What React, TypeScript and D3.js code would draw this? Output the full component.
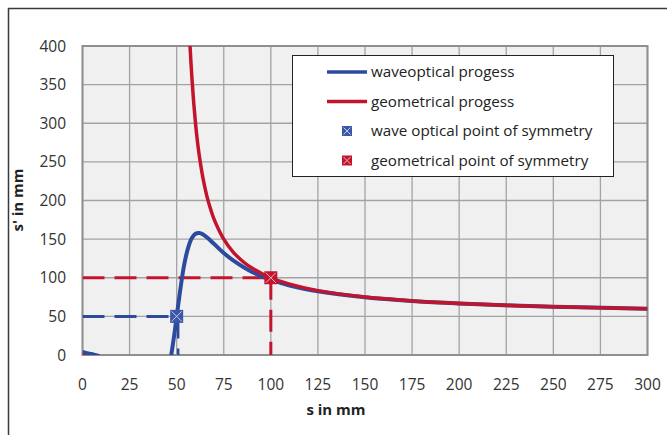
import React from 'react';
import { scaleLinear, line, curveCatmullRom } from 'd3';

// s in mm (object distance)
const xTicks = [0, 25, 50, 75, 100, 125, 150, 175, 200, 225, 250, 275, 300];
const yTicks = [0, 50, 100, 150, 200, 250, 300, 350, 400];

// waveoptical progess (two visible pieces)
const waveS1 = [0, 3, 6, 9];
const waveV1 = [4, 2, 0.5, -1.5];
const waveS2 = [46, 47, 48, 49, 50, 51, 52, 54, 56, 58, 60, 62, 64, 66, 70, 75, 80, 90, 100, 110, 125, 150, 175, 200, 250, 300];
const waveV2 = [-17, -2, 14, 31, 50, 68, 86, 117, 138, 151, 157, 158, 156, 152.5, 143.5, 132, 122.5, 107.5, 97.5, 90, 82.5, 74.7, 69.8, 66.6, 62.5, 60];

// geometrical progess
const geoS1 = [0, 3, 6];
const geoV1 = [0, -3.2, -6.8];
const geoS2 = [56.5, 57.1, 58, 59, 60, 61, 62, 64, 66, 68, 70, 75, 80, 85, 90, 100, 110, 125, 150, 175, 200, 225, 250, 275, 300];
const geoV2 = [435, 400, 362.5, 328, 300, 277, 258.3, 228.6, 206, 189, 175, 150, 133.3, 121.4, 112.5, 100, 91.7, 83.3, 75, 70, 66.7, 64.3, 62.5, 61.1, 60];

// points of symmetry
const waveSym = [50, 50];
const geoSym = [100, 100];

const legendItems = [
  { label: 'waveoptical progess', kind: 'line', color: '#2c4a9e' },
  { label: 'geometrical progess', kind: 'line', color: '#c3142d' },
  { label: 'wave optical point of symmetry', kind: 'mark', color: '#3b57aa' },
  { label: 'geometrical point of symmetry', kind: 'mark', color: '#c3142d' },
];

const BLUE = '#2c4a9e';
const RED = '#c3142d';
const FONT = "'Open Sans', sans-serif";

const left = 82.5, right = 647.5, top = 46, bottom = 355;

export default function App() {
  const x = scaleLinear().domain([0, 300]).range([left, right]);
  const y = scaleLinear().domain([0, 400]).range([bottom, top]);

  const mk = line<[number, number]>()
    .x((d) => x(d[0]))
    .y((d) => y(d[1]))
    .curve(curveCatmullRom);

  const zip = (a: number[], b: number[]) => a.map((v, i) => [v, b[i]] as [number, number]);

  const marker = (cx: number, cy: number, color: string, size: number) => {
    const h = size / 2;
    return (
      <g>
        <rect x={cx - h} y={cy - h} width={size} height={size} fill={color} />
        <path
          d={`M${cx - h + 1.5},${cy - h + 1.5}L${cx + h - 1.5},${cy + h - 1.5}M${cx + h - 1.5},${cy - h + 1.5}L${cx - h + 1.5},${cy + h - 1.5}`}
          stroke="#e8e8f0"
          strokeWidth={1}
          opacity={0.8}
        />
      </g>
    );
  };

  return (
    <svg width={667} height={435} style={{ position: 'absolute', left: 0, top: 0 }}>
      <rect x={0} y={0} width={667} height={435} fill="#fff" />
      <rect x={8.5} y={8.5} width={700} height={450} fill="none" stroke="#3a3a3a" strokeWidth={1.5} />
      <defs>
        <clipPath id="plot">
          <rect x={left} y={top} width={right - left} height={bottom - top} />
        </clipPath>
      </defs>

      {/* plot area */}
      <rect x={left} y={top} width={right - left} height={bottom - top} fill="#f0f0f0" />
      {xTicks.map((t) => (
        <line key={'gx' + t} x1={x(t)} x2={x(t)} y1={top} y2={bottom} stroke="#a3a3a3" strokeWidth={1.3} />
      ))}
      {yTicks.map((t) => (
        <line key={'gy' + t} x1={left} x2={right} y1={y(t)} y2={y(t)} stroke="#a3a3a3" strokeWidth={1.3} />
      ))}
      <rect x={left} y={top} width={right - left} height={bottom - top} fill="none" stroke="#8f8f8f" strokeWidth={2} />

      <g clipPath="url(#plot)">
        {/* dashed guide lines */}
        <path d={`M${x(0)},${y(waveSym[1])}H${x(waveSym[0])}`} stroke={BLUE} strokeWidth={3} strokeDasharray="22,10" fill="none" />
        <path d={`M${x(waveSym[0]) + 1.5},${y(waveSym[1])}V${y(0)}`} stroke={BLUE} strokeWidth={2.5} strokeDasharray="22,10" fill="none" />
        <path d={`M${x(0)},${y(geoSym[1])}H${x(geoSym[0])}`} stroke={RED} strokeWidth={3} strokeDasharray="22,10" fill="none" />
        <path d={`M${x(geoSym[0])},${y(geoSym[1])}V${y(0)}`} stroke={RED} strokeWidth={3} strokeDasharray="22,10" fill="none" />

        <path d={mk(zip(waveS1, waveV1)) || ''} stroke={BLUE} strokeWidth={4} fill="none" />
        <path d={mk(zip(waveS2, waveV2)) || ''} stroke={BLUE} strokeWidth={4} fill="none" />
        <path d={mk(zip(geoS1, geoV1)) || ''} stroke={RED} strokeWidth={3.5} fill="none" />
        <path d={mk(zip(geoS2, geoV2)) || ''} stroke={RED} strokeWidth={3.5} fill="none" />
      </g>

      {marker(x(waveSym[0]), y(waveSym[1]), '#3b57aa', 13)}
      {marker(x(geoSym[0]), y(geoSym[1]), RED, 13)}

      {/* axes labels */}
      {yTicks.map((t) => (
        <text key={'ty' + t} x={66} y={y(t) + 5.5} textAnchor="end" fontFamily={FONT} fontSize={15.5} fill="#333">
          {t}
        </text>
      ))}
      {xTicks.map((t) => (
        <text key={'tx' + t} x={x(t)} y={390} textAnchor="middle" fontFamily={FONT} fontSize={15.5} fill="#333">
          {t}
        </text>
      ))}
      <text x={336} y={415} textAnchor="middle" fontFamily={FONT} fontSize={15} fontWeight="bold" fill="#222">
        s in mm
      </text>
      <text
        transform="translate(23,200) rotate(-90)"
        textAnchor="middle"
        fontFamily={FONT}
        fontSize={15}
        fontWeight="bold"
        fill="#222"
      >
        s' in mm
      </text>

      {/* legend */}
      <rect x={292.5} y={55.5} width={321} height={121} fill="#fff" stroke="#222" strokeWidth={1} />
      {legendItems.map((it, i) => {
        const cy = 72 + i * 29.5;
        return (
          <g key={it.label}>
            {it.kind === 'line' ? (
              <line x1={327} x2={367} y1={cy} y2={cy} stroke={it.color} strokeWidth={3.5} />
            ) : (
              marker(347, cy, it.color, 10)
            )}
            <text x={371} y={cy + 5} fontFamily={FONT} fontSize={15.2} fill="#222">
              {it.label}
            </text>
          </g>
        );
      })}
    </svg>
  );
}
